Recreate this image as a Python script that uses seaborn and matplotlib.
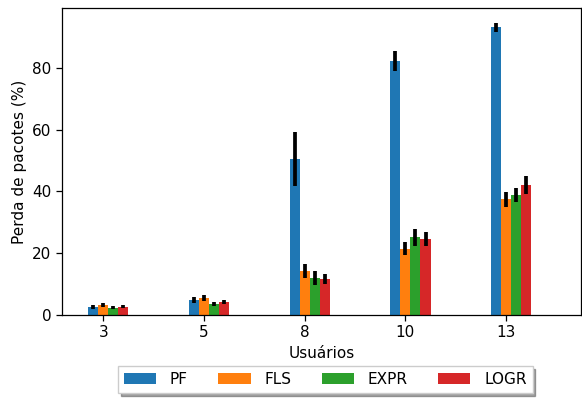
import numpy as np
import matplotlib
matplotlib.use("Agg")
import matplotlib.pyplot as plt
import seaborn as sns

# Packet loss per number of users, mean and error for each method
users = ["3", "5", "8", "10", "13"]
methods = ["PF", "FLS", "EXPR", "LOGR"]
pf = [2.6, 4.9, 50.5, 82.2, 93.2]
fls = [3.3, 5.5, 14.2, 21.4, 37.5]
expr = [2.3, 3.6, 12.0, 25.2, 38.8]
logr = [2.7, 4.2, 11.6, 24.6, 42.1]
pf_err = [0.5, 0.9, 8.8, 3.3, 1.5]
fls_err = [0.6, 1.0, 2.3, 2.1, 2.4]
expr_err = [0.5, 0.7, 2.3, 2.7, 2.2]
logr_err = [0.5, 0.8, 1.6, 2.4, 2.9]

plt.rcParams["font.family"] = ["DejaVu Sans"]
palette = sns.color_palette("tab10", 4)
fs = 11

fig = plt.figure(figsize=(5.82, 4.01), dpi=100)
ax = fig.add_axes([0.1065, 0.2145, 0.892, 0.7655])

x = np.arange(len(users))
w = 0.1
series = [(pf, pf_err), (fls, fls_err), (expr, expr_err), (logr, logr_err)]
for i, (name, (vals, errs)) in enumerate(zip(methods, series)):
    ax.bar(x + (i - 1) * w, vals, width=w, color=palette[i], label=name,
           linewidth=0, yerr=errs,
           error_kw=dict(ecolor="black", elinewidth=2.7, capsize=0))

ax.set_xticks(x)
ax.set_xticklabels(users)
ax.set_xlim(-0.41, 4.745)
ax.set_ylim(0, 99.4)
ax.set_yticks([0, 20, 40, 60, 80])
ax.set_xlabel("Usuários", fontsize=fs)
ax.set_ylabel("Perda de pacotes (%)", fontsize=fs)
ax.tick_params(labelsize=fs, direction="out", length=4, width=0.9)
for s in ax.spines.values():
    s.set_color("black")
    s.set_linewidth(0.9)

fig.legend(loc="upper center", bbox_to_anchor=(0.559, 0.107), ncol=4,
           shadow=True, fancybox=False, handlelength=2.1, columnspacing=2.0,
           handletextpad=0.9, fontsize=fs, frameon=True, edgecolor="#cccccc")

fig.savefig("out.png", dpi=100)
